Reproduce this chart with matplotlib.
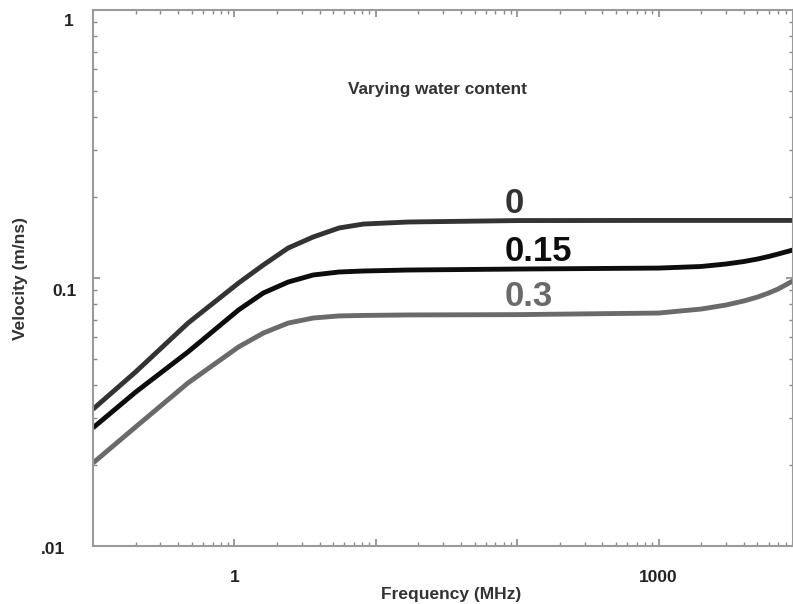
import matplotlib
matplotlib.use("Agg")
import matplotlib.pyplot as plt
from matplotlib.ticker import LogLocator, FixedLocator, FuncFormatter, NullFormatter
from matplotlib.transforms import blended_transform_factory, ScaledTranslation

plt.rcParams['font.family'] = ['Liberation Sans', 'DejaVu Sans']

# Data
freq = [0.1, 0.2, 0.47, 1.07, 1.6, 2.4, 3.6, 5.5, 8.2, 17, 100, 1000, 2000, 3000, 4000, 5000, 6000, 7000, 8900]
vel_0 = [0.0324, 0.0446, 0.0679, 0.0958, 0.1118, 0.1294, 0.1422, 0.1537, 0.1590, 0.1618,
         0.1638, 0.1640, 0.1640, 0.1640, 0.1640, 0.1640, 0.1640, 0.1640, 0.1640]
vel_015 = [0.0276, 0.0375, 0.0530, 0.0760, 0.0879, 0.0966, 0.1026, 0.1053, 0.1062, 0.1071,
           0.1080, 0.1089, 0.1104, 0.1128, 0.1152, 0.1177, 0.1203, 0.1229, 0.1272]
vel_03 = [0.0204, 0.0278, 0.0406, 0.0553, 0.0623, 0.0679, 0.0709, 0.0722, 0.0725, 0.0728,
          0.0730, 0.0740, 0.0766, 0.0793, 0.0821, 0.0849, 0.0879, 0.0910, 0.0975]

series_labels = ["0", "0.15", "0.3"]
series_colors = ["#333333", "#0d0d0d", "#6a6a6a"]
label_pos_f = 81
label_pos_v = [0.175, 0.1157, 0.0786]

x_tick_labels = {1: "1", 1000: "1000"}
y_tick_values = [0.01, 0.1, 1]
y_tick_labels = [".01", "0.1", "1"]

fig = plt.figure(figsize=(7.93, 6.04), dpi=100)
ax = fig.add_axes([93/793, 58/604, 700/793, 536/604])

for v, c in zip([vel_0, vel_015, vel_03], series_colors):
    ax.plot(freq, v, color=c, lw=3.5, solid_capstyle='butt')

ax.set_xscale('log')
ax.set_yscale('log')
ax.set_xlim(0.1, 8913)
ax.set_ylim(0.01, 1)

for lab, c, yv in zip(series_labels, series_colors, label_pos_v):
    ax.text(label_pos_f, yv, lab, color=c, fontsize=25, fontweight='bold', ha='left', va='baseline')

ax.text(0.365, 0.851, "Varying water content", transform=ax.transAxes, fontsize=12.4,
        fontweight='bold', color='#333333', ha='left', va='center')

# ticks
ax.xaxis.set_major_locator(LogLocator(base=10, numticks=20))
ax.xaxis.set_minor_locator(LogLocator(base=10, subs=range(2, 10), numticks=100))
ax.xaxis.set_major_formatter(FuncFormatter(lambda x, p: x_tick_labels.get(int(round(x)) if x >= 1 else -1, "")))
ax.xaxis.set_minor_formatter(NullFormatter())
ax.yaxis.set_major_locator(FixedLocator(y_tick_values))
ax.yaxis.set_major_formatter(NullFormatter())
ax.yaxis.set_minor_locator(LogLocator(base=10, subs=range(2, 10), numticks=100))
ax.yaxis.set_minor_formatter(NullFormatter())

ax.tick_params(which='both', direction='in', color='#8a8a8a', top=True, right=True)
ax.tick_params(which='major', length=5, width=1.2)
ax.tick_params(which='minor', length=3, width=1.0)
ax.tick_params(axis='x', which='major', pad=17, labelsize=12.5, labelcolor='#222222')
for lab in ax.get_xticklabels():
    lab.set_fontweight('bold')

# y tick labels (placed individually as in the reference)
ytrans = blended_transform_factory(ax.transAxes, ax.transData)
y_label_x = {1: -0.027, 0.1: -0.023, 0.01: -0.040}
y_label_dy = {1: 12, 0.1: 13.5, 0.01: 4}
for val, txt in zip(y_tick_values, y_tick_labels):
    tr = ytrans + ScaledTranslation(0, -y_label_dy[val] / 100, fig.dpi_scale_trans)
    ax.text(y_label_x[val], val, txt, transform=tr, ha='right', va='center',
            fontsize=12.5, fontweight='bold', color='#222222')

for s in ax.spines.values():
    s.set_color('#9a9a9a')
    s.set_linewidth(1.5)

ax.set_xlabel("Frequency (MHz)", fontsize=12.5, fontweight='bold', color='#333333')
ax.xaxis.set_label_coords(0.511, -0.0765)
ax.set_ylabel("Velocity (m/ns)", fontsize=12.5, fontweight='bold', color='#333333')
ax.yaxis.set_label_coords(-0.093, 0.50)

fig.savefig("out.png", dpi=100)
